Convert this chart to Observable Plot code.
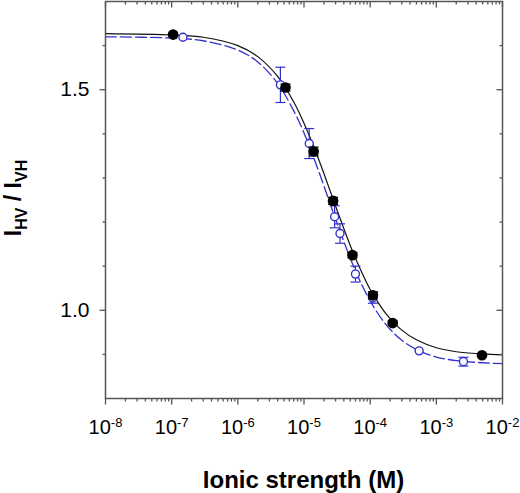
<!DOCTYPE html>
<html><head><meta charset="utf-8">
<script src="https://cdn.jsdelivr.net/npm/d3@7"></script>
<script src="https://cdn.jsdelivr.net/npm/@observablehq/plot@0.6"></script>
<style>body{margin:0;background:#fff} svg{display:block}</style>
</head><body><div id="chart"></div>
<script>
// Filled (black) series
const filledX = [1.05e-7, 5.25e-6, 1.4e-5, 2.75e-5, 5.4e-5, 1.1e-4, 2.19e-4, 4.9e-3];
const filledY = [1.625, 1.505, 1.360, 1.248, 1.125, 1.034, 0.971, 0.898];
const filledErr = [0, 0.008, 0.010, 0.008, 0.006, 0.008, 0.005, 0];
// Open (blue) series
const openX = [1.48e-7, 4.4e-6, 1.2e-5, 2.9e-5, 3.5e-5, 6.0e-5, 1.1e-4, 5.5e-4, 2.57e-3];
const openY = [1.619, 1.511, 1.378, 1.212, 1.174, 1.082, 1.028, 0.908, 0.8835];
const openErr = [0, 0.040, 0.034, 0.025, 0.022, 0.018, 0.012, 0, 0.010];
// Fitted curves
const fitX = [1e-8, 1e-7, 3e-7, 1e-6, 2e-6, 4e-6, 7e-6, 1e-5, 1.5e-5, 2e-5, 3e-5, 5e-5, 7e-5, 1e-4, 1.5e-4, 2e-4, 3e-4, 5e-4, 1e-3, 2e-3, 5e-3, 1e-2];
const fitFilled = [1.627, 1.624, 1.619, 1.600, 1.575, 1.530, 1.472, 1.424, 1.360, 1.310, 1.236, 1.147, 1.095, 1.047, 1.005, 0.981, 0.955, 0.933, 0.915, 0.906, 0.901, 0.899];
const fitOpen = [1.620, 1.617, 1.611, 1.590, 1.563, 1.514, 1.452, 1.402, 1.334, 1.282, 1.207, 1.118, 1.067, 1.021, 0.980, 0.957, 0.932, 0.911, 0.894, 0.886, 0.881, 0.879];
// Axes
const xMajorTicks = [1e-8, 1e-7, 1e-6, 1e-5, 1e-4, 1e-3, 1e-2];
const xMinorTicks = [];
for (let e = -8; e < -2; e++) for (let k = 2; k <= 9; k++) xMinorTicks.push(k * Math.pow(10, e));
const yMajorTicks = [1.0, 1.5];
const yMinorTicks = [0.9, 1.1, 1.2, 1.3, 1.4, 1.6];

const blue = "#3030cc";
const axisColor = "#555";
const seg = (dx, dy) => ({draw(ctx) { ctx.moveTo(0, 0); ctx.lineTo(dx, dy); }});
const hcap = w => ({draw(ctx) { ctx.moveTo(-w / 2, 0); ctx.lineTo(w / 2, 0); }});

const filled = filledX.map((x, i) => ({x, y: filledY[i], e: filledErr[i]}));
const open = openX.map((x, i) => ({x, y: openY[i], e: openErr[i]}));
const filledE = filled.filter(d => d.e > 0);
const openE = open.filter(d => d.e > 0);
const curveF = fitX.map((x, i) => ({x, y: fitFilled[i]}));
const curveO = fitX.map((x, i) => ({x, y: fitOpen[i]}));

const tickOpts = {fill: "none", stroke: axisColor, strokeWidth: 1.3};

const plot = Plot.plot({
  width: 520, height: 493,
  marginLeft: 105, marginRight: 18, marginTop: 1, marginBottom: 95,
  style: {fontFamily: "'Liberation Sans', Arial, sans-serif", background: "#fff"},
  x: {type: "log", domain: [1e-8, 1e-2], axis: null},
  y: {domain: [0.8, 1.7], axis: null},
  marks: [
    Plot.line(curveO, {x: "x", y: "y", stroke: blue, strokeWidth: 1.3, strokeDasharray: "11,4", curve: "catmull-rom"}),
    Plot.line(curveF, {x: "x", y: "y", stroke: "#111", strokeWidth: 1.2, curve: "catmull-rom"}),
    Plot.ruleX(openE, {x: "x", y1: d => d.y - d.e, y2: d => d.y + d.e, stroke: blue, strokeWidth: 1.2}),
    Plot.dot(openE, {x: "x", y: d => d.y - d.e, symbol: hcap(10), fill: "none", stroke: blue, strokeWidth: 1.2}),
    Plot.dot(openE, {x: "x", y: d => d.y + d.e, symbol: hcap(10), fill: "none", stroke: blue, strokeWidth: 1.2}),
    Plot.dot(open, {x: "x", y: "y", r: 4, fill: "white", stroke: blue, strokeWidth: 1.4}),
    Plot.ruleX(filledE, {x: "x", y1: d => d.y - d.e, y2: d => d.y + d.e, stroke: "#000", strokeWidth: 1.2}),
    Plot.dot(filledE, {x: "x", y: d => d.y - d.e, symbol: hcap(10), fill: "none", stroke: "#000", strokeWidth: 1.2}),
    Plot.dot(filledE, {x: "x", y: d => d.y + d.e, symbol: hcap(10), fill: "none", stroke: "#000", strokeWidth: 1.2}),
    Plot.dot(filled, {x: "x", y: "y", r: 4.6, fill: "#000", stroke: "#000"}),
    // ticks
    Plot.dot(xMajorTicks, {x: d => d, frameAnchor: "bottom", symbol: seg(0, 6), ...tickOpts}),
    Plot.dot(xMinorTicks, {x: d => d, frameAnchor: "bottom", symbol: seg(0, 3), ...tickOpts}),
    Plot.dot(xMajorTicks, {x: d => d, frameAnchor: "top", symbol: seg(0, 6), ...tickOpts}),
    Plot.dot(xMinorTicks, {x: d => d, frameAnchor: "top", symbol: seg(0, 3), ...tickOpts}),
    Plot.dot(yMajorTicks, {y: d => d, frameAnchor: "left", symbol: seg(-6, 0), ...tickOpts}),
    Plot.dot(yMinorTicks, {y: d => d, frameAnchor: "left", symbol: seg(-3, 0), ...tickOpts}),
    Plot.dot(yMajorTicks, {y: d => d, frameAnchor: "right", symbol: seg(-6, 0), ...tickOpts}),
    Plot.dot(yMinorTicks, {y: d => d, frameAnchor: "right", symbol: seg(-3, 0), ...tickOpts}),
    Plot.frame({stroke: axisColor, strokeWidth: 1.5}),
    Plot.axisX({ticks: xMajorTicks, tickSize: 0, tickPadding: 21, fontSize: 20, tickFormat: d => String(Math.round(Math.log10(d))), label: null}),
    Plot.axisY({ticks: yMajorTicks, tickSize: 0, tickPadding: 16, fontSize: 21, tickFormat: d => d.toFixed(1), label: null})
  ]
});

document.getElementById("chart").appendChild(plot);
const svg = d3.select(plot);

// superscripts on x tick labels
svg.selectAll('g[aria-label="x-axis tick label"] text').each(function() {
  const t = d3.select(this);
  const exp = t.text();
  t.text("10");
  t.append("tspan").attr("dy", -6.5).attr("font-size", 13).text(exp);
});

// x label
svg.append("text")
  .attr("x", 303.5).attr("y", 488)
  .attr("text-anchor", "middle")
  .attr("font-weight", "bold").attr("font-size", 24)
  .attr("fill", "#000")
  .text("Ionic strength (M)");

// y label with subscripts
const yl = svg.append("text")
  .attr("transform", "translate(21,198) rotate(-90)")
  .attr("text-anchor", "middle")
  .attr("font-weight", "bold").attr("font-size", 23)
  .attr("fill", "#000");
yl.append("tspan").text("I");
yl.append("tspan").attr("font-size", 16).attr("dy", 6).text("HV");
yl.append("tspan").attr("dy", -6).text(" / I");
yl.append("tspan").attr("font-size", 16).attr("dy", 6).text("VH");
</script>
</body></html>
